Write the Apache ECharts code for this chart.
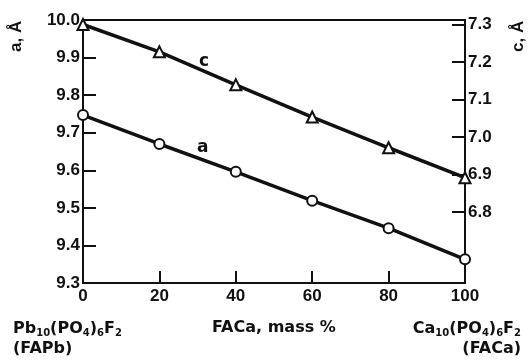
<!DOCTYPE html>
<html>
<head>
<meta charset="utf-8">
<script src="https://cdn.jsdelivr.net/npm/echarts@6/dist/echarts.min.js"></script>
<style>
  html, body { margin: 0; padding: 0; background: #fff; }
  #chart { width: 531px; height: 361px; }
</style>
</head>
<body>
<div id="chart"></div>
<script>
// FACa content, mass %
const massPct = [0, 20, 40, 60, 80, 100];
// lattice parameter a, Å (left axis)
const aValues = [9.747, 9.670, 9.596, 9.519, 9.446, 9.363];
// lattice parameter c, Å (right axis)
const cValues = [7.300, 7.227, 7.139, 7.053, 6.971, 6.891];
const cTicks = [6.8, 6.9, 7.0, 7.1, 7.2, 7.3];

const ink = '#111';
const font = 'Liberation Sans';
const wide = 'DejaVu Sans';

const chart = echarts.init(document.getElementById('chart'));

const lbl = { color: ink, fontFamily: font, fontSize: 17, fontWeight: 'bold' };

// rich styles for the formulas under the axis
const formulaRich = {
  n: { fill: ink, fontFamily: wide, fontSize: 16, fontWeight: 'bold', lineHeight: 20 },
  s: { fill: ink, fontFamily: wide, fontSize: 10, fontWeight: 'bold', padding: [9, 0, 0, 0] }
};

const option = {
  animation: false,
  grid: {
    left: 83, right: 66, top: 20, bottom: 78,
    show: true, borderColor: ink, borderWidth: 2, backgroundColor: 'transparent'
  },
  xAxis: {
    type: 'value', min: 0, max: 100, interval: 20,
    axisLine: { lineStyle: { color: ink, width: 2 } },
    axisTick: { inside: true, length: 12, lineStyle: { color: ink, width: 2 } },
    axisLabel: Object.assign({ margin: 5 }, lbl),
    splitLine: { show: false }
  },
  yAxis: [
    {
      type: 'value', min: 9.3, max: 10.0, interval: 0.1,
      axisLine: { show: true, lineStyle: { color: ink, width: 2 } },
      axisTick: { show: true, inside: true, length: 13, lineStyle: { color: ink, width: 2 } },
      axisLabel: Object.assign({ margin: 3, formatter: v => v.toFixed(1) }, lbl),
      splitLine: { show: false }
    },
    {
      type: 'value', position: 'right', min: 6.61, max: 7.312,
      axisLine: { show: true, lineStyle: { color: ink, width: 2 } },
      axisTick: { show: true, inside: true, length: 13, customValues: cTicks, lineStyle: { color: ink, width: 2 } },
      axisLabel: Object.assign({ margin: 3, customValues: cTicks, formatter: v => v.toFixed(1) }, lbl),
      splitLine: { show: false }
    }
  ],
  series: [
    {
      name: 'a', type: 'line', yAxisIndex: 0,
      data: massPct.map((x, i) => [x, aValues[i]]),
      symbol: 'circle', symbolSize: 10,
      lineStyle: { color: ink, width: 3.5 },
      itemStyle: { color: '#fff', borderColor: ink, borderWidth: 2 },
      z: 3
    },
    {
      name: 'c', type: 'line', yAxisIndex: 1,
      data: massPct.map((x, i) => [x, cValues[i]]),
      symbol: 'triangle', symbolSize: 11,
      lineStyle: { color: ink, width: 3.5 },
      itemStyle: { color: '#fff', borderColor: ink, borderWidth: 2 },
      z: 3
    }
  ],
  graphic: [
    { type: 'text', x: 8, y: 52, rotation: Math.PI / 2,
      style: { text: 'a, Å', fill: ink, font: 'bold 17px ' + font } },
    { type: 'text', x: 510, y: 52, rotation: Math.PI / 2,
      style: { text: 'c, Å', fill: ink, font: 'bold 17px ' + font } },
    { type: 'text', x: 199, y: 53,
      style: { text: 'c', fill: ink, font: 'bold 17px ' + wide } },
    { type: 'text', x: 197, y: 139,
      style: { text: 'a', fill: ink, font: 'bold 17px ' + wide } },
    { type: 'text', x: 13, y: 319,
      style: {
        text: '{n|Pb}{s|10}{n|(PO}{s|4}{n|)}{s|6}{n|F}{s|2}\n{n|(FAPb)}',
        rich: formulaRich
      } },
    { type: 'text', x: 212, y: 320,
      style: { text: 'FACa, mass %', fill: ink, font: 'bold 16px ' + wide } },
    { type: 'text', x: 521, y: 319,
      style: {
        text: '{n|Ca}{s|10}{n|(PO}{s|4}{n|)}{s|6}{n|F}{s|2}\n{n|(FACa)}',
        align: 'right',
        rich: {
          n: Object.assign({ align: 'right' }, formulaRich.n),
          s: Object.assign({ align: 'right' }, formulaRich.s)
        }
      } }
  ]
};

chart.setOption(option);
</script>
</body>
</html>
